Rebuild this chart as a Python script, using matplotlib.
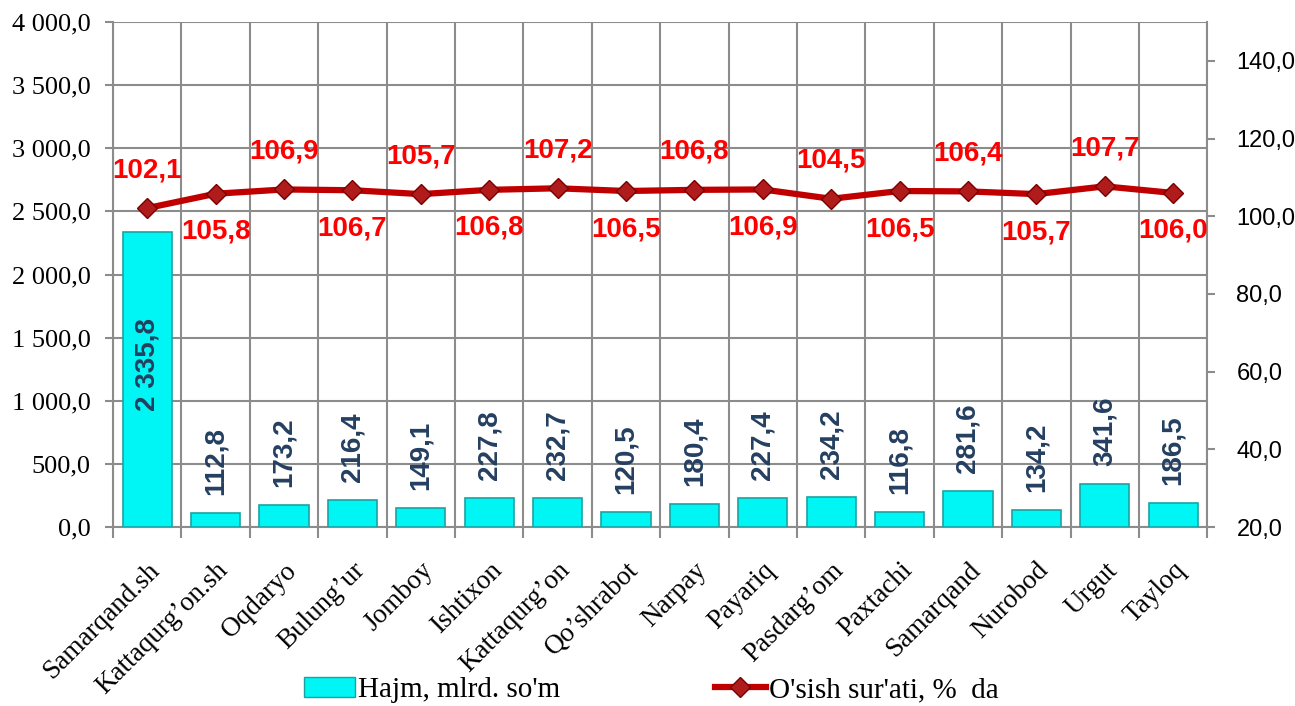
import numpy as np
import matplotlib.pyplot as plt
from matplotlib.ticker import FuncFormatter

tumanlar = ['Samarqand.sh', 'Kattaqurg\u2019on.sh', 'Oqdaryo', 'Bulung\u2019ur', 'Jomboy',
            'Ishtixon', 'Kattaqurg\u2019on', 'Qo\u2019shrabot', 'Narpay', 'Payariq',
            'Pasdarg\u2019om', 'Paxtachi', 'Samarqand', 'Nurobod', 'Urgut', 'Tayloq']
hajm = [2335.8, 112.8, 173.2, 216.4, 149.1, 227.8, 232.7, 120.5, 180.4, 227.4,
        234.2, 116.8, 281.6, 134.2, 341.6, 186.5]
osish = [102.1, 105.8, 106.9, 106.7, 105.7, 106.8, 107.2, 106.5, 106.8, 106.9,
         104.5, 106.5, 106.4, 105.7, 107.7, 106.0]

serif = 'Liberation Serif'
sans = 'Liberation Sans'
grid_c = '#8c8c8c'


def fmt_left(v, pos):
    s = f'{v:,.1f}'.replace(',', ' ').replace('.', ',')
    return s


def fmt_right(v, pos):
    return f'{v:.1f}'.replace('.', ',')


fig = plt.figure(figsize=(12.95, 7.06), dpi=100)
ax = fig.add_axes([0.0873, 0.2535, 0.845, 0.7153])
x = np.arange(len(tumanlar))

ax.bar(x, hajm, width=0.72, color='#00f5f5', edgecolor='#1aa3a3', linewidth=1.2, zorder=3)
ax.set_xlim(-0.5, len(tumanlar) - 0.5)
ax.set_ylim(0, 4000)
ax.set_yticks(np.arange(0, 4001, 500))
ax.yaxis.set_major_formatter(FuncFormatter(fmt_left))
ax.set_xticks(x)
ax.set_xticks(np.arange(-0.5, len(tumanlar)), minor=True)
ax.set_xticklabels(tumanlar, rotation=45, ha='right', rotation_mode='anchor',
                   fontsize=19.5, family=serif)
ax.tick_params(axis='x', which='major', length=0, pad=22)
ax.tick_params(axis='x', which='minor', length=8, color=grid_c, width=1.5)
ax.tick_params(axis='y', length=6, color=grid_c, width=1.5, labelsize=19, pad=10)
for lb in ax.get_yticklabels():
    lb.set_family(serif)
ax.grid(axis='y', color=grid_c, linewidth=1.5, zorder=0)
ax.grid(axis='x', which='minor', color=grid_c, linewidth=1.5, zorder=0)
for s in ax.spines.values():
    s.set_color(grid_c)
    s.set_linewidth(1.5)
ax.spines['top'].set_visible(False)

for i, v in enumerate(hajm):
    lbl = f'{v:,.1f}'.replace(',', ' ').replace('.', ',')
    if v > 1500:
        ax.text(i, v * 0.55, lbl, rotation=90, ha='center', va='center',
                fontsize=20, fontweight='bold', color='#243f60', family=sans, zorder=5)
    else:
        ax.annotate(lbl, (i, v), xytext=(0, 13), textcoords='offset points',
                    rotation=90, ha='center', va='bottom', fontsize=20,
                    fontweight='bold', color='#243f60', family=sans, zorder=5)

ax2 = ax.twinx()
ax2.set_ylim(20, 150)
ax2.set_yticks(np.arange(20, 141, 20))
ax2.yaxis.set_major_formatter(FuncFormatter(fmt_right))
ax2.tick_params(axis='y', length=6, color=grid_c, width=1.5, labelsize=17, pad=15)
for lb in ax2.get_yticklabels():
    lb.set_family(sans)
for s in ax2.spines.values():
    s.set_visible(False)

ax2.plot(x, osish, color='#c00000', linewidth=4.5, marker='D', markersize=10,
         markerfacecolor='#b01c1c', markeredgecolor='#7a0000', zorder=4,
         solid_capstyle='round')
for i, v in enumerate(osish):
    lbl = f'{v:.1f}'.replace('.', ',')
    if i % 2 == 0:
        ax2.annotate(lbl, (i, v), xytext=(0, 18), textcoords='offset points',
                     ha='center', va='bottom', fontsize=20, fontweight='bold',
                     color='#ff0000', family=sans)
    else:
        ax2.annotate(lbl, (i, v), xytext=(0, -18), textcoords='offset points',
                     ha='center', va='top', fontsize=20, fontweight='bold',
                     color='#ff0000', family=sans)

h1 = plt.Rectangle((0, 0), 1, 1, facecolor='#00f5f5', edgecolor='#1aa3a3')
h2, = ax2.plot([], [], color='#c00000', linewidth=4.5, marker='D', markersize=10,
               markerfacecolor='#b01c1c', markeredgecolor='#7a0000')
fig.legend([h1, h2], ["Hajm, mlrd. so'm", "O'sish sur'ati, %  da"], ncol=2,
           loc='center', bbox_to_anchor=(0.503, 0.023), frameon=False,
           prop={'family': serif, 'size': 21}, columnspacing=5.3,
           handlelength=1.75, handletextpad=0.1)

fig.savefig('out.png', dpi=100)
